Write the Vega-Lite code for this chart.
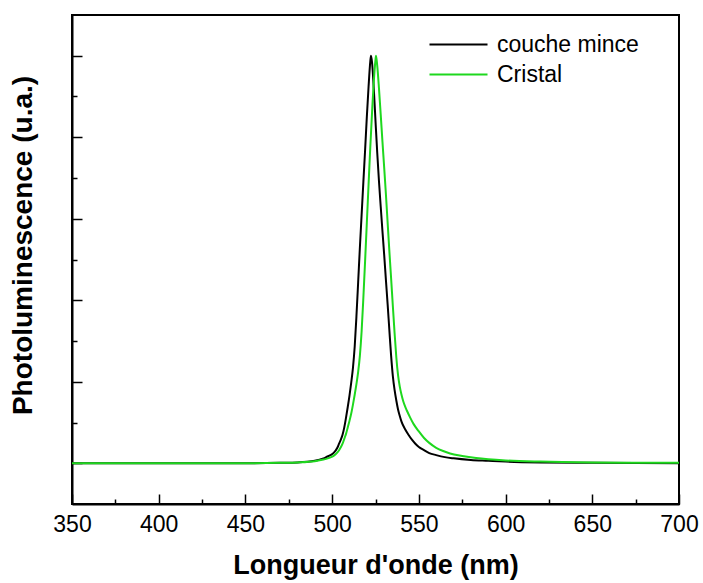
{
  "$schema": "https://vega.github.io/schema/vega-lite/v6.json",
  "width": 607,
  "height": 489,
  "autosize": "none",
  "padding": {"left": 72, "top": 15, "right": 24, "bottom": 79},
  "config": {"font": "Liberation Sans", "view": {"stroke": "#000000", "strokeWidth": 2}},
  "data": {"values": [
    {"s": "couche mince", "wl": 350, "pl": 0},
    {"s": "couche mince", "wl": 400, "pl": 0},
    {"s": "couche mince", "wl": 450, "pl": 0},
    {"s": "couche mince", "wl": 470, "pl": 0.005},
    {"s": "couche mince", "wl": 480, "pl": 0.01},
    {"s": "couche mince", "wl": 490, "pl": 0.03},
    {"s": "couche mince", "wl": 495, "pl": 0.06},
    {"s": "couche mince", "wl": 497, "pl": 0.08},
    {"s": "couche mince", "wl": 499, "pl": 0.1},
    {"s": "couche mince", "wl": 501, "pl": 0.13},
    {"s": "couche mince", "wl": 503, "pl": 0.19},
    {"s": "couche mince", "wl": 504, "pl": 0.24},
    {"s": "couche mince", "wl": 505, "pl": 0.29},
    {"s": "couche mince", "wl": 506, "pl": 0.35},
    {"s": "couche mince", "wl": 507, "pl": 0.44},
    {"s": "couche mince", "wl": 508, "pl": 0.56},
    {"s": "couche mince", "wl": 509, "pl": 0.69},
    {"s": "couche mince", "wl": 510, "pl": 0.83},
    {"s": "couche mince", "wl": 511, "pl": 0.99},
    {"s": "couche mince", "wl": 512, "pl": 1.17},
    {"s": "couche mince", "wl": 513, "pl": 1.43},
    {"s": "couche mince", "wl": 514, "pl": 1.8},
    {"s": "couche mince", "wl": 515, "pl": 2.22},
    {"s": "couche mince", "wl": 516, "pl": 2.65},
    {"s": "couche mince", "wl": 517, "pl": 3.05},
    {"s": "couche mince", "wl": 518, "pl": 3.45},
    {"s": "couche mince", "wl": 519, "pl": 3.84},
    {"s": "couche mince", "wl": 520, "pl": 4.25},
    {"s": "couche mince", "wl": 521, "pl": 4.62},
    {"s": "couche mince", "wl": 522, "pl": 4.93},
    {"s": "couche mince", "wl": 522.4, "pl": 5.0},
    {"s": "couche mince", "wl": 523, "pl": 4.92},
    {"s": "couche mince", "wl": 524, "pl": 4.6},
    {"s": "couche mince", "wl": 525, "pl": 4.2},
    {"s": "couche mince", "wl": 526, "pl": 3.81},
    {"s": "couche mince", "wl": 527, "pl": 3.46},
    {"s": "couche mince", "wl": 528, "pl": 3.15},
    {"s": "couche mince", "wl": 529, "pl": 2.85},
    {"s": "couche mince", "wl": 530, "pl": 2.56},
    {"s": "couche mince", "wl": 531, "pl": 2.25},
    {"s": "couche mince", "wl": 532, "pl": 1.95},
    {"s": "couche mince", "wl": 533, "pl": 1.63},
    {"s": "couche mince", "wl": 534, "pl": 1.32},
    {"s": "couche mince", "wl": 535, "pl": 1.07},
    {"s": "couche mince", "wl": 536, "pl": 0.9},
    {"s": "couche mince", "wl": 537, "pl": 0.77},
    {"s": "couche mince", "wl": 538, "pl": 0.66},
    {"s": "couche mince", "wl": 539, "pl": 0.58},
    {"s": "couche mince", "wl": 540, "pl": 0.51},
    {"s": "couche mince", "wl": 542, "pl": 0.42},
    {"s": "couche mince", "wl": 544, "pl": 0.35},
    {"s": "couche mince", "wl": 546, "pl": 0.29},
    {"s": "couche mince", "wl": 548, "pl": 0.24},
    {"s": "couche mince", "wl": 550, "pl": 0.2},
    {"s": "couche mince", "wl": 553, "pl": 0.16},
    {"s": "couche mince", "wl": 556, "pl": 0.125},
    {"s": "couche mince", "wl": 560, "pl": 0.1},
    {"s": "couche mince", "wl": 565, "pl": 0.075},
    {"s": "couche mince", "wl": 570, "pl": 0.06},
    {"s": "couche mince", "wl": 580, "pl": 0.04},
    {"s": "couche mince", "wl": 590, "pl": 0.03},
    {"s": "couche mince", "wl": 600, "pl": 0.02},
    {"s": "couche mince", "wl": 620, "pl": 0.01},
    {"s": "couche mince", "wl": 650, "pl": 0.005},
    {"s": "couche mince", "wl": 700, "pl": 0},
    {"s": "Cristal", "wl": 350, "pl": 0},
    {"s": "Cristal", "wl": 400, "pl": 0},
    {"s": "Cristal", "wl": 450, "pl": 0},
    {"s": "Cristal", "wl": 470, "pl": 0.005},
    {"s": "Cristal", "wl": 480, "pl": 0.01},
    {"s": "Cristal", "wl": 490, "pl": 0.025},
    {"s": "Cristal", "wl": 495, "pl": 0.045},
    {"s": "Cristal", "wl": 500, "pl": 0.08},
    {"s": "Cristal", "wl": 502, "pl": 0.11},
    {"s": "Cristal", "wl": 504, "pl": 0.16},
    {"s": "Cristal", "wl": 506, "pl": 0.24},
    {"s": "Cristal", "wl": 507, "pl": 0.3},
    {"s": "Cristal", "wl": 508, "pl": 0.36},
    {"s": "Cristal", "wl": 509, "pl": 0.44},
    {"s": "Cristal", "wl": 510, "pl": 0.52},
    {"s": "Cristal", "wl": 511, "pl": 0.61},
    {"s": "Cristal", "wl": 512, "pl": 0.72},
    {"s": "Cristal", "wl": 513, "pl": 0.84},
    {"s": "Cristal", "wl": 514, "pl": 0.97},
    {"s": "Cristal", "wl": 515, "pl": 1.12},
    {"s": "Cristal", "wl": 516, "pl": 1.32},
    {"s": "Cristal", "wl": 517, "pl": 1.62},
    {"s": "Cristal", "wl": 518, "pl": 2.03},
    {"s": "Cristal", "wl": 519, "pl": 2.48},
    {"s": "Cristal", "wl": 520, "pl": 2.95},
    {"s": "Cristal", "wl": 521, "pl": 3.42},
    {"s": "Cristal", "wl": 522, "pl": 3.88},
    {"s": "Cristal", "wl": 523, "pl": 4.3},
    {"s": "Cristal", "wl": 524, "pl": 4.68},
    {"s": "Cristal", "wl": 525, "pl": 4.95},
    {"s": "Cristal", "wl": 525.3, "pl": 5.0},
    {"s": "Cristal", "wl": 526, "pl": 4.88},
    {"s": "Cristal", "wl": 527, "pl": 4.6},
    {"s": "Cristal", "wl": 528, "pl": 4.28},
    {"s": "Cristal", "wl": 529, "pl": 3.95},
    {"s": "Cristal", "wl": 530, "pl": 3.63},
    {"s": "Cristal", "wl": 531, "pl": 3.3},
    {"s": "Cristal", "wl": 532, "pl": 2.95},
    {"s": "Cristal", "wl": 533, "pl": 2.6},
    {"s": "Cristal", "wl": 534, "pl": 2.27},
    {"s": "Cristal", "wl": 535, "pl": 1.93},
    {"s": "Cristal", "wl": 536, "pl": 1.6},
    {"s": "Cristal", "wl": 537, "pl": 1.3},
    {"s": "Cristal", "wl": 538, "pl": 1.08},
    {"s": "Cristal", "wl": 539, "pl": 0.94},
    {"s": "Cristal", "wl": 540, "pl": 0.84},
    {"s": "Cristal", "wl": 541, "pl": 0.76},
    {"s": "Cristal", "wl": 542, "pl": 0.7},
    {"s": "Cristal", "wl": 543, "pl": 0.65},
    {"s": "Cristal", "wl": 545, "pl": 0.56},
    {"s": "Cristal", "wl": 547, "pl": 0.48},
    {"s": "Cristal", "wl": 550, "pl": 0.39},
    {"s": "Cristal", "wl": 553, "pl": 0.31},
    {"s": "Cristal", "wl": 556, "pl": 0.25},
    {"s": "Cristal", "wl": 560, "pl": 0.19},
    {"s": "Cristal", "wl": 564, "pl": 0.15},
    {"s": "Cristal", "wl": 568, "pl": 0.12},
    {"s": "Cristal", "wl": 575, "pl": 0.09},
    {"s": "Cristal", "wl": 583, "pl": 0.065},
    {"s": "Cristal", "wl": 590, "pl": 0.05},
    {"s": "Cristal", "wl": 600, "pl": 0.035},
    {"s": "Cristal", "wl": 620, "pl": 0.02},
    {"s": "Cristal", "wl": 650, "pl": 0.01},
    {"s": "Cristal", "wl": 700, "pl": 0.005}
  ]},
  "encoding": {
    "x": {
      "field": "wl", "type": "quantitative",
      "scale": {"domain": [350, 700], "nice": false, "zero": false},
      "axis": {
        "values": [350, 375, 400, 425, 450, 475, 500, 525, 550, 575, 600, 625, 650, 675, 700],
        "tickSize": {"condition": {"test": "datum.value % 50 === 0", "value": -10}, "value": -5},
        "labelExpr": "datum.value % 50 === 0 ? datum.label : ''",
        "grid": false,
        "domainColor": "#000000", "domainWidth": 2,
        "tickColor": "#000000", "tickWidth": 1.5,
        "labelFontSize": 23, "labelColor": "#000000", "labelFlush": false,
        "labelBaseline": "alphabetic", "labelPadding": 37,
        "title": "Longueur d'onde (nm)",
        "titleFontSize": 27, "titleFontWeight": "bold", "titleColor": "#000000",
        "titleBaseline": "alphabetic", "titleY": 69
      }
    },
    "y": {
      "field": "pl", "type": "quantitative",
      "scale": {"domain": [-0.5, 5.5], "nice": false, "zero": false},
      "axis": {
        "values": [0, 0.5, 1, 1.5, 2, 2.5, 3, 3.5, 4, 4.5, 5],
        "tickSize": {"condition": {"test": "datum.value % 1 === 0", "value": -10}, "value": -5},
        "labels": false,
        "grid": false,
        "domainColor": "#000000", "domainWidth": 2,
        "tickColor": "#000000", "tickWidth": 1.5,
        "title": "Photoluminescence (u.a.)",
        "titleFontSize": 28, "titleFontWeight": "bold", "titleColor": "#000000",
        "titleBaseline": "alphabetic", "titleAngle": -90, "titleAlign": "center",
        "titleX": -41, "titleY": 230
      }
    },
    "color": {
      "field": "s", "type": "nominal",
      "scale": {"domain": ["couche mince", "Cristal"], "range": ["#000000", "#1ed81e"]},
      "legend": {
        "orient": "none", "legendX": 375, "legendY": 18,
        "title": null,
        "symbolType": "M-3,0H3", "symbolSize": 374, "symbolStrokeWidth": 2,
        "labelFontSize": 23, "labelColor": "#000000", "labelOffset": 27,
        "rowPadding": 6
      }
    }
  },
  "layer": [
    {
      "transform": [{"filter": "datum.s === 'couche mince'"}],
      "mark": {"type": "line", "strokeWidth": 2, "interpolate": "monotone"}
    },
    {
      "transform": [{"filter": "datum.s === 'Cristal'"}],
      "mark": {"type": "line", "strokeWidth": 2, "interpolate": "monotone"}
    }
  ]
}
